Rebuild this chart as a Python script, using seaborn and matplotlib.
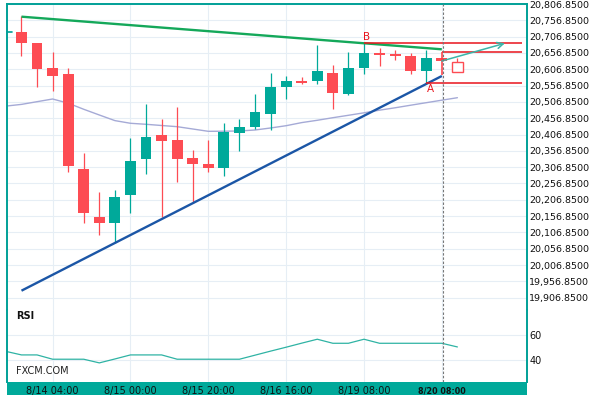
import matplotlib
matplotlib.use("Agg")
import matplotlib.pyplot as plt
from matplotlib.patches import Rectangle
import seaborn as sns
import numpy as np

# ---------------- data ----------------
opens = [20721.0, 20687.3, 20610.7, 20592.3, 20301.2, 20154.1, 20135.8, 20222.5, 20332.8, 20405.4,
         20390.1, 20334.9, 20316.5, 20305.2, 20412.5, 20430.9, 20470.7, 20553.4, 20568.0, 20571.8,
         20595.4, 20532.0, 20611.7, 20656.7, 20652.1, 20647.5, 20601.5, 20642.3]
highs = [20770.1, 20687.3, 20659.8, 20610.7, 20350.3, 20230.7, 20236.9, 20396.2, 20500.4, 20454.4,
         20491.2, 20359.5, 20390.1, 20442.2, 20454.4, 20531.0, 20595.4, 20587.1, 20584.1, 20682.1,
         20619.9, 20659.8, 20686.4, 20672.9, 20665.9, 20655.8, 20665.9, 20642.3]
lows = [20647.5, 20552.5, 20540.3, 20292.0, 20136.7, 20099.0, 20075.4, 20166.4, 20285.9, 20154.1,
        20261.4, 20197.0, 20292.0, 20279.8, 20356.4, 20424.7, 20420.7, 20515.7, 20561.7, 20561.7,
        20484.2, 20528.9, 20591.4, 20616.9, 20635.2, 20593.3, 20565.7, 20633.1]
closes = [20687.3, 20607.7, 20586.2, 20311.3, 20167.3, 20135.8, 20215.4, 20325.7, 20399.3, 20388.0,
          20332.8, 20317.5, 20305.2, 20415.5, 20429.9, 20476.8, 20552.5, 20570.9, 20565.0, 20601.5,
          20533.2, 20610.7, 20656.7, 20650.6, 20649.0, 20601.5, 20641.4, 20633.1]

# forecast candle (hollow)
fc_open, fc_close, fc_high = 20630.1, 20597.6, 20642.3

# moving average (index -1 .. 28)
ma_vals = [20494.0, 20499.2, 20507.5, 20515.7, 20502.9, 20484.2, 20466.7, 20449.5, 20441.3, 20438.2,
           20434.5, 20430.9, 20423.8, 20416.7, 20417.0, 20417.7, 20420.7, 20426.9, 20433.9, 20443.4,
           20450.5, 20458.4, 20465.8, 20473.4, 20481.5, 20488.8, 20496.7, 20504.4, 20512.1, 20519.7]

# RSI (index -1 .. 28)
rsi_vals = [46.8, 44.0, 44.0, 40.6, 40.6, 40.6, 37.7, 40.8, 44.0, 44.0,
            44.0, 40.6, 40.6, 40.6, 40.6, 40.6, 43.8, 47.0, 50.1, 53.3,
            56.4, 53.2, 53.2, 56.4, 53.2, 53.2, 53.2, 53.2, 53.2, 50.3]

# trend lines / levels
green_line = [20768.0, 20668.0]     # at index 0 and 27
blue_line = [19928.3, 20586.2]      # at index 0 and 27
arrow_from = 20632.2
arrow_to = 20686.4
level_b = 20686.4
level_mid = 20658.8
level_a = 20564.8
level_vert_low = 20590.0

price_ticks = [19906.85 + 50 * k for k in range(19)]
rsi_ticks = [40, 60]
xtick_pos = [2, 7, 12, 17, 22, 27]
xtick_labels = ["8/14 04:00", "8/15 00:00", "8/15 20:00", "8/16 16:00", "8/19 08:00", "8/20 08:00"]

# ---------------- style ----------------
sns.set_style("white")
plt.rcParams['font.family'] = ['DejaVu Sans']

RED = "#fd4c53"
TEAL = "#00a99a"
BORDER = "#00a097"
GRID = "#e6eef5"
MA_C = "#a5aad6"
GREEN_T = "#14a85a"
BLUE_T = "#1b56a6"
ARROW_C = "#3bb5a8"

fig = plt.figure(figsize=(6, 4), dpi=100)
fig.patch.set_facecolor("white")

# bottom teal bar (behind the axes so tick labels stay visible)
fig.patches.append(Rectangle((7 / 600, 1 - 395 / 400), 520 / 600, 13 / 400,
                             transform=fig.transFigure, facecolor=TEAL, edgecolor="none",
                             zorder=-5))

ax = fig.add_axes([7 / 600, 1 - 310 / 400, 520 / 600, 306 / 400])
rx = fig.add_axes([7 / 600, 1 - 382 / 400, 520 / 600, 72 / 400])

xmin, xmax = -0.93, 32.47
for a in (ax, rx):
    a.set_xlim(xmin, xmax)
    a.set_facecolor("white")
    for s in a.spines.values():
        s.set_color(BORDER)
        s.set_linewidth(1.4)
    a.spines['bottom'].set_visible(False)
    a.tick_params(axis='both', length=0)
rx.spines['top'].set_visible(False)

ax.set_ylim(19869.1, 20806.85)
rx.set_ylim(22.6, 79.5)

# grid
ax.set_yticks(price_ticks)
ax.set_yticklabels([f"{v:,.4f}" for v in price_ticks], fontsize=6.8)
ax.yaxis.tick_right()
ax.tick_params(axis='y', pad=1.5, labelcolor="#111")
ax.set_xticks(xtick_pos)
ax.set_xticklabels([])
ax.grid(True, color=GRID, lw=0.8)
ax.set_axisbelow(True)

rx.set_yticks(rsi_ticks)
rx.set_yticklabels([str(v) for v in rsi_ticks], fontsize=7)
rx.yaxis.tick_right()
rx.tick_params(axis='y', pad=1.5, labelcolor="#111")
rx.set_xticks(xtick_pos)
rx.set_xticklabels(xtick_labels, fontsize=7, color="#111")
rx.tick_params(axis='x', pad=3)
rx.grid(True, color=GRID, lw=0.8)
rx.set_axisbelow(True)
lbls = rx.get_xticklabels()
lbls[-1].set_fontweight("bold")
lbls[-1].set_fontsize(5.8)

# moving average
idx_ext = list(range(-1, 29))
sns.lineplot(x=idx_ext, y=ma_vals, ax=ax, color=MA_C, linewidth=1.0, zorder=2)

# candles
idx = np.arange(len(opens))
for i, o, h, l, c in zip(idx, opens, highs, lows, closes):
    col = TEAL if c > o else RED
    ax.vlines(i, l, h, color=col, lw=0.9, zorder=3)
    bot = min(o, c)
    hgt = max(abs(c - o), 5.0)
    ax.bar(i, hgt, bottom=bot, width=0.7, color=col, edgecolor=col, lw=0, zorder=4)

# forecast hollow candle
fi = len(opens)
ax.vlines(fi, fc_open, fc_high, color=RED, lw=0.9, zorder=3)
ax.bar(fi, fc_open - fc_close, bottom=fc_close, width=0.68, facecolor="white",
       edgecolor=RED, lw=1.0, zorder=4)

# trend lines
ax.plot([0, 27], green_line, color=GREEN_T, lw=1.7, zorder=5, solid_capstyle='butt')
ax.plot([0, 27], blue_line, color=BLUE_T, lw=1.7, zorder=5, solid_capstyle='butt')

# red levels
ax.hlines(level_b, 22, 32.15, color="#e8141c", lw=1.1, zorder=6)
ax.hlines(level_mid, 27, 32.15, color="#e8141c", lw=1.1, zorder=6)
ax.hlines(level_a, 26, 32.15, color="#e8141c", lw=1.1, zorder=6)
ax.vlines(27, level_vert_low, level_mid, color="#ff3a40", lw=1.1, zorder=6)

# projection arrow
ax.annotate("", xy=(31.05, arrow_to), xytext=(27, arrow_from),
            arrowprops=dict(arrowstyle="->", color=ARROW_C, lw=1.1, mutation_scale=11,
                            shrinkA=0, shrinkB=0), zorder=7)

ax.text(22.15, 20704.8, "B", color="#e8141c", fontsize=7.5, ha="center", va="center", zorder=7)
ax.text(26.25, 20545.5, "A", color="#e8141c", fontsize=7.5, ha="center", va="center", zorder=7)

# small marker at left
ax.plot([xmin, -0.6], [20722.0, 20722.0], color=BORDER, lw=1.2, zorder=6, clip_on=False)

# dashed current line
for a in (ax, rx):
    a.axvline(27.05, color="#777777", ls=(0, (2.2, 1.6)), lw=0.8, zorder=8)

# RSI
sns.lineplot(x=idx_ext, y=rsi_vals, ax=rx, color="#2fb3a4", linewidth=0.9)

rx.text(0.017, 0.92, "RSI", transform=rx.transAxes, fontsize=7, fontweight="bold",
        color="#111", va="center", ha="left")
rx.text(0.017, 0.15, "FXCM.COM", transform=rx.transAxes, fontsize=7, color="#222",
        va="center", ha="left")

for a in (ax, rx):
    a.set_xlabel("")
    a.set_ylabel("")

fig.savefig("out.png", dpi=100, facecolor="white")
